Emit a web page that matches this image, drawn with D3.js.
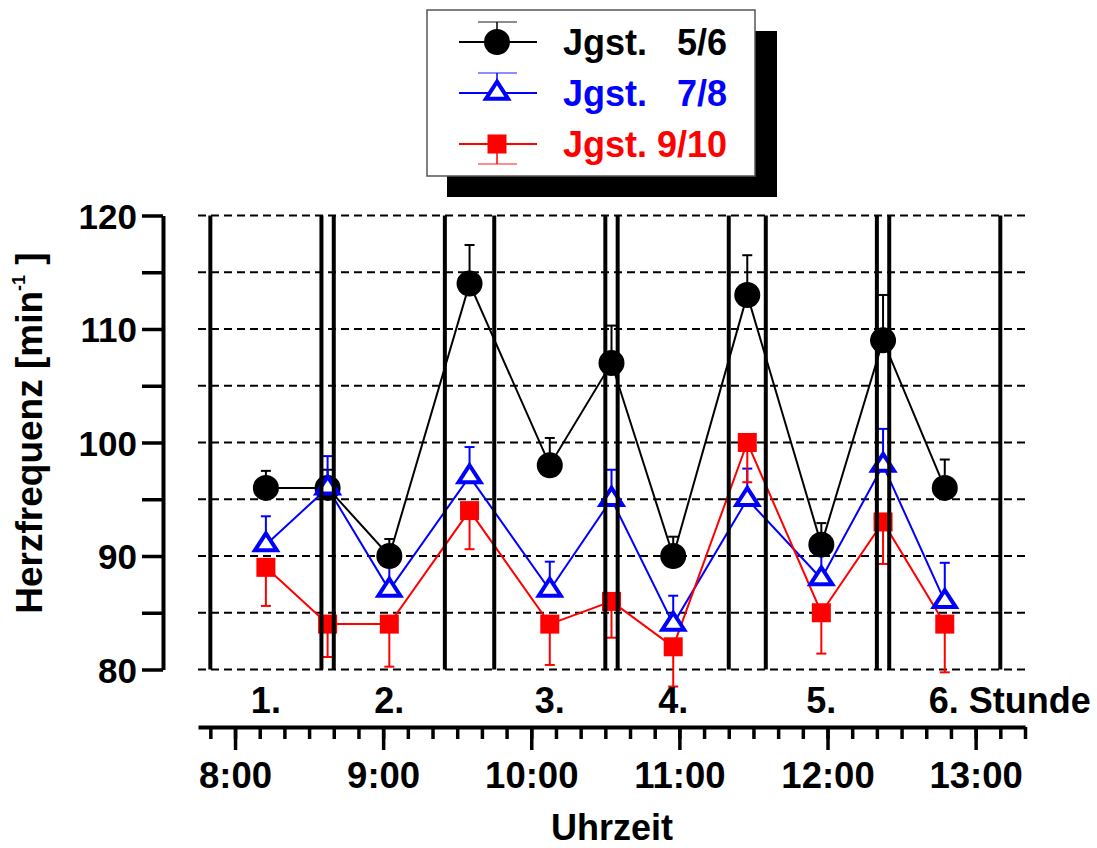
<!DOCTYPE html>
<html>
<head>
<meta charset="utf-8">
<script src="https://cdn.jsdelivr.net/npm/d3@7"></script>
<style>
  body { margin: 0; background: #fff; }
  svg text { font-family: "Liberation Sans", Arial, sans-serif; font-weight: bold; }
</style>
</head>
<body>
<svg id="chart" width="1097" height="848"></svg>
<script>
// time of each measurement (h:mm, decimal minutes allowed)
const pointTimes = ["8:12.5", "8:37.5", "9:02.5", "9:35", "10:07.5", "10:32.5", "10:57.5", "11:27.5", "11:57.5", "12:22.5", "12:47.5"];

// lesson periods
const lessonStart = ["7:50", "8:40", "9:45", "10:35", "11:35", "12:25"];
const lessonEnd = ["8:35", "9:25", "10:30", "11:20", "12:20", "13:10"];
const lessonLabels = ["1.", "2.", "3.", "4.", "5.", "6."];

// series
const seriesNames = ["Jgst.", "Jgst.", "Jgst."];
const seriesGrades = ["5/6", "7/8", "9/10"];
const hr56 = [96, 96, 90, 114, 98, 107, 90, 113, 91, 109, 96];
const sd56 = [1.5, 1.6, 1.5, 3.4, 2.4, 3.3, 1.7, 3.5, 1.9, 4.0, 2.5];
const hr78 = [91, 96, 87, 97, 87, 95, 84, 95, 88, 98, 86];
const sd78 = [2.5, 2.8, 2.4, 2.6, 2.5, 2.6, 2.5, 2.7, 3.0, 3.2, 3.4];
const hr910 = [89, 84, 84, 94, 84, 86, 82, 100, 85, 93, 84];
const sd910 = [3.4, 2.9, 3.75, 3.4, 3.6, 3.2, 3.5, 3.5, 3.6, 3.7, 4.25];

// axis ticks
const yTicks = [80, 85, 90, 95, 100, 105, 110, 115, 120];
const yLabels = [80, 90, 100, 110, 120];
const xMajor = ["8:00", "9:00", "10:00", "11:00", "12:00", "13:00"];

const toMin = s => { const [h, m] = s.split(":"); return +h * 60 + +m; };

const svg = d3.select("#chart");
const x = d3.scaleLinear().domain([toMin("7:45"), toMin("13:20")]).range([198, 1025]);
const y = d3.scaleLinear().domain([80, 120]).range([669.5, 215.5]);

const series = [
  { color: "#000000", vals: hr56, sd: sd56, dir: 1, shape: "circle" },
  { color: "#0000ff", vals: hr78, sd: sd78, dir: 1, shape: "triangle" },
  { color: "#ff0000", vals: hr910, sd: sd910, dir: -1, shape: "square" }
];

// dashed grid
svg.append("g").selectAll("line")
  .data(yTicks)
  .join("line")
  .attr("x1", x.range()[0]).attr("x2", x.range()[1] + 2)
  .attr("y1", d => y(d)).attr("y2", d => y(d))
  .attr("stroke", "#000").attr("stroke-width", 2)
  .attr("stroke-dasharray", "8,5");

// y axis
const yAxis = svg.append("g")
  .attr("transform", "translate(163,0)")
  .call(d3.axisLeft(y).tickValues(yTicks).tickSize(21).tickSizeOuter(0)
    .tickFormat(d => yLabels.includes(d) ? d : ""));
yAxis.select(".domain").attr("stroke-width", 4);
yAxis.selectAll(".tick line").attr("stroke-width", 3.5);
yAxis.selectAll(".tick text").attr("font-size", 35).attr("x", -26).attr("dy", "0.36em")
  .attr("fill", "#000");

// x axis
const minorTicks = d3.range(toMin("7:50"), toMin("13:20") + 1, 10);
const xAxisG = svg.append("g").attr("transform", "translate(0,727)");
const xMinor = xAxisG.append("g")
  .call(d3.axisBottom(x).tickValues(minorTicks).tickSize(12).tickSizeOuter(0).tickFormat(""));
xMinor.select(".domain").attr("stroke-width", 4);
xMinor.selectAll(".tick line").attr("stroke-width", 3.5);
const xMaj = xAxisG.append("g")
  .call(d3.axisBottom(x).tickValues(xMajor.map(toMin)).tickSize(23).tickSizeOuter(0)
    .tickFormat((d, i) => xMajor[i]));
xMaj.select(".domain").remove();
xMaj.selectAll(".tick line").attr("stroke-width", 3.5);
xMaj.selectAll(".tick text").attr("font-size", 36.5).attr("y", 0).attr("dy", 0)
  .attr("transform", "translate(0,61)").attr("fill", "#000");

// data lines
const line = d3.line().x((d, i) => x(toMin(pointTimes[i]))).y(d => y(d));
series.forEach(s => {
  svg.append("path").datum(s.vals)
    .attr("d", line).attr("fill", "none")
    .attr("stroke", s.color).attr("stroke-width", 2);
});

// error bars
series.forEach(s => {
  const g = svg.append("g").attr("stroke", s.color).attr("stroke-width", 2);
  s.vals.forEach((v, i) => {
    const cx = x(toMin(pointTimes[i]));
    const ye = y(v + s.dir * s.sd[i]);
    g.append("line").attr("x1", cx).attr("x2", cx).attr("y1", y(v)).attr("y2", ye);
    g.append("line").attr("x1", cx - 5).attr("x2", cx + 5).attr("y1", ye).attr("y2", ye);
  });
});

function drawMarker(g, shape, color, cx, cy) {
  if (shape === "circle") {
    g.append("circle").attr("cx", cx).attr("cy", cy).attr("r", 13).attr("fill", color);
  } else if (shape === "triangle") {
    const h = 17, w = 22;
    g.append("path")
      .attr("d", `M${cx},${cy - h * 2 / 3}L${cx + w / 2},${cy + h / 3}L${cx - w / 2},${cy + h / 3}Z`)
      .attr("fill", "#fff").attr("stroke", color).attr("stroke-width", 4)
      .attr("stroke-linejoin", "miter");
  } else {
    g.append("rect").attr("x", cx - 9.5).attr("y", cy - 9.5)
      .attr("width", 19).attr("height", 19).attr("fill", color);
  }
}

// markers
series.forEach(s => {
  const g = svg.append("g");
  s.vals.forEach((v, i) => drawMarker(g, s.shape, s.color, x(toMin(pointTimes[i])), y(v)));
});

// lesson boundaries
const bounds = lessonStart.concat(lessonEnd).map(toMin);
svg.append("g").selectAll("line")
  .data(bounds)
  .join("line")
  .attr("x1", d => x(d)).attr("x2", d => x(d))
  .attr("y1", y(120)).attr("y2", y(80))
  .attr("stroke", "#000").attr("stroke-width", 4);

// lesson labels
lessonLabels.forEach((lab, i) => {
  const mid = (toMin(lessonStart[i]) + toMin(lessonEnd[i])) / 2;
  const last = i === lessonLabels.length - 1;
  svg.append("text")
    .attr("x", last ? x(mid) - 16 : x(mid))
    .attr("y", 713)
    .attr("text-anchor", last ? "start" : "middle")
    .attr("font-size", 36)
    .text(last ? lab + " Stunde" : lab);
});

// axis titles
svg.append("text").attr("x", 612).attr("y", 840).attr("text-anchor", "middle")
  .attr("font-size", 36).text("Uhrzeit");

const yt = svg.append("text")
  .attr("transform", "translate(42,433) rotate(-90)")
  .attr("text-anchor", "middle").attr("font-size", 37);
yt.append("tspan").text("Herzfrequenz [min");
yt.append("tspan").attr("font-size", 18).attr("dy", -17).text("-1");
yt.append("tspan").attr("dy", 17).text(" ]");

// legend
const lg = svg.append("g");
lg.append("rect").attr("x", 447).attr("y", 31).attr("width", 330).attr("height", 166).attr("fill", "#000");
lg.append("rect").attr("x", 427).attr("y", 10).attr("width", 328).attr("height", 166)
  .attr("fill", "#fff").attr("stroke", "#555").attr("stroke-width", 1.5);
const rowY = [42, 93, 144];
series.forEach((s, i) => {
  const cy = rowY[i];
  lg.append("line").attr("x1", 459).attr("x2", 537).attr("y1", cy).attr("y2", cy)
    .attr("stroke", s.color).attr("stroke-width", 2);
  const ye = cy - s.dir * 20;
  lg.append("line").attr("x1", 497).attr("x2", 497).attr("y1", cy).attr("y2", ye)
    .attr("stroke", s.color).attr("stroke-width", 1.5);
  lg.append("line").attr("x1", 478).attr("x2", 517).attr("y1", ye).attr("y2", ye)
    .attr("stroke", s.color).attr("stroke-width", 1.5).attr("stroke-opacity", 0.6);
  drawMarker(lg, s.shape, s.color, 497, cy);
  lg.append("text").attr("x", 563).attr("y", cy + 12.5).attr("font-size", 36)
    .attr("fill", s.color).text(seriesNames[i]);
  lg.append("text").attr("x", 727).attr("y", cy + 12.5).attr("font-size", 36)
    .attr("text-anchor", "end").attr("fill", s.color).text(seriesGrades[i]);
});
</script>
</body>
</html>
